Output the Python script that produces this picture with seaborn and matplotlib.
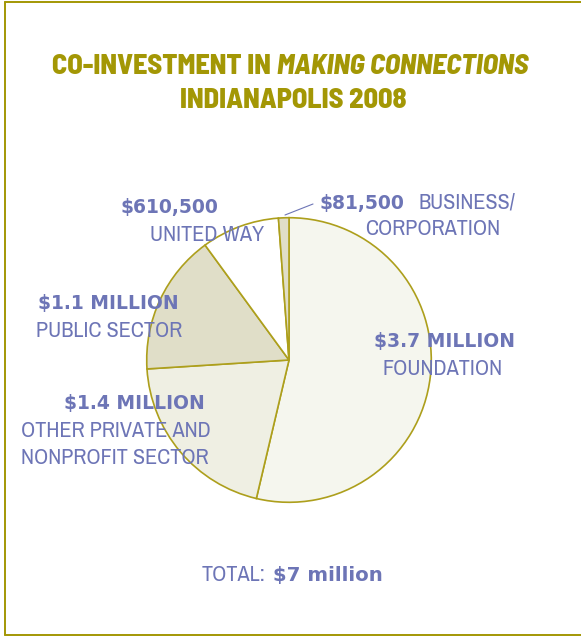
import matplotlib
matplotlib.use("Agg")
import matplotlib.pyplot as plt
from matplotlib.lines import Line2D
import seaborn as sns

W, H = 581, 636

# data
sources = ["FOUNDATION", "OTHER PRIVATE AND\nNONPROFIT SECTOR", "PUBLIC SECTOR",
           "UNITED WAY", "BUSINESS/\nCORPORATION"]
amounts = [3700000, 1400000, 1100000, 610500, 81500]
amount_labels = ["$3.7 MILLION", "$1.4 MILLION", "$1.1 MILLION", "$610,500", "$81,500"]
slice_colors = ["#f5f6ee", "#efefe3", "#e0dec8", "#ffffff", "#e0dec8"]
title_line1 = [("CO-INVESTMENT IN ", "normal"), ("MAKING CONNECTIONS", "italic")]
title_line2 = "INDIANAPOLIS 2008"
total_label = ("TOTAL:", "$7 million")

olive = "#a39705"
edge = "#ad9f1c"
blue = "#6d75b6"

sns.set_theme(style="white")
title_font = ['Barlow Semi Condensed', 'DejaVu Sans']
name_font = ['Archivo Narrow', 'DejaVu Sans']
amount_font = ['DejaVu Sans']
plt.rcParams['font.family'] = name_font


def px(x, y):
    return x / W, 1 - y / H


fig = plt.figure(figsize=(W / 100, H / 100), dpi=100)

# pie, centre (289, 360), radius 143 px
cx, cy, r = 289, 360, 143
ax = fig.add_axes([(cx - r) / W, (H - cy - r) / H, 2 * r / W, 2 * r / H])
ax.pie(amounts, colors=slice_colors, startangle=90, counterclock=False,
       wedgeprops=dict(edgecolor=edge, linewidth=1.2))
ax.set_xlim(-1.005, 1.005)
ax.set_ylim(-1.005, 1.005)
ax.set_aspect('equal')
ax.axis('off')

renderer = fig.canvas.get_renderer()

# title, first line has an italic part; sized so the line spans ~476 px
parts = []
for s, style in title_line1:
    parts.append(fig.text(0, 0, s, fontsize=18, color=olive, fontweight=800,
                          fontstyle=style, family=title_font, va='center', ha='left'))
tsize = 18 * 476 / sum(p.get_window_extent(renderer).width for p in parts)
for p in parts:
    p.set_fontsize(tsize)
widths = [p.get_window_extent(renderer).width for p in parts]
x0 = 290 - sum(widths) / 2
for p, w in zip(parts, widths):
    p.set_position(px(x0, 67))
    x0 += w
fig.text(*px(293, 100), title_line2, fontsize=tsize, color=olive, fontweight=800,
         family=title_font, ha='center', va='center')

# slice labels: amount position, then name line positions
amount_pos = [(374, 342), (64, 404), (38, 304), (121, 208), (320, 203)]
name_pos = [[(383, 369)], [(21, 431), (21, 458)], [(36, 331)], [(150, 235)],
            [(418, 203), (365, 229)]]
for lab, apos, src, npos in zip(amount_labels, amount_pos, sources, name_pos):
    fig.text(*px(*apos), lab, fontsize=13.5, color=blue, fontweight='bold',
             family=amount_font, ha='left', va='center')
    for line, pos in zip(src.split("\n"), npos):
        fig.text(*px(*pos), line, fontsize=16, color=blue, family=name_font,
                 ha='left', va='center')

# leader line for the small business slice
fig.add_artist(Line2D([285 / W, 313 / W], [1 - 215 / H, 1 - 204 / H], color=blue, lw=0.8))

# total
fig.text(*px(202, 575), total_label[0], fontsize=16, color=blue,
         family=name_font, ha='left', va='center')
fig.text(*px(273, 575), total_label[1], fontsize=14.2, color=blue, fontweight='bold',
         family=amount_font, ha='left', va='center')

# frame lines (left, top, bottom)
fig.add_artist(Line2D([4.5 / W, 4.5 / W], [1 - 1.5 / H, 1 - 634.5 / H], color=olive, lw=1.4))
fig.add_artist(Line2D([4.5 / W, 1], [1 - 1.5 / H, 1 - 1.5 / H], color=olive, lw=1.4))
fig.add_artist(Line2D([4.5 / W, 1], [1 - 634.5 / H, 1 - 634.5 / H], color=olive, lw=1.4))

fig.savefig("out.png", dpi=100, facecolor="white")
